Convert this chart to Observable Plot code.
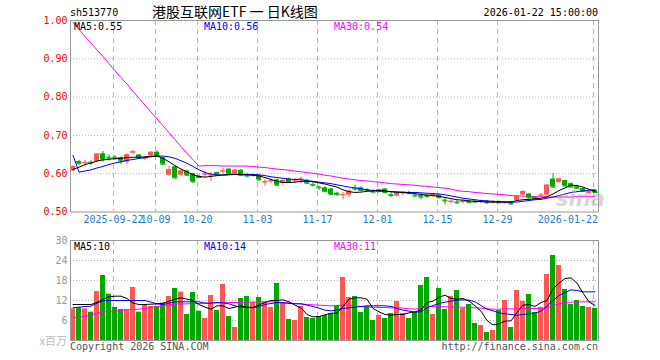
<!DOCTYPE html>
<html><head><meta charset="utf-8">
<script src="https://cdn.jsdelivr.net/npm/d3@7"></script>
<script src="https://cdn.jsdelivr.net/npm/@observablehq/plot@0.6"></script>
<style>
body{margin:0;background:#fff;}
#wrap{position:relative;width:660px;height:360px;overflow:hidden;font-family:"DejaVu Sans Mono",monospace;}
.t{position:absolute;white-space:nowrap;font-size:10px;line-height:12px;}
#wrap svg{position:absolute;left:0;}
</style></head><body><div id="wrap"></div>
<script>
const code = "sh513770";
const title = "港股互联网ETF 一 日K线图";
const stamp = "2026-01-22 15:00:00";
const priceMaLabels = ["MA5:0.55", "MA10:0.56", "MA30:0.54"];
const volMaLabels = ["MA5:10", "MA10:14", "MA30:11"];
const volUnit = "x百万";
const copyright = "Copyright 2026 SINA.COM";
const site = "http://finance.sina.com.cn";

const dates = ["2025-09-11","2025-09-12","2025-09-15","2025-09-16","2025-09-17","2025-09-18","2025-09-19","2025-09-22","2025-09-23","2025-09-24","2025-09-25","2025-09-26","2025-09-29","2025-09-30","2025-10-09","2025-10-10","2025-10-13","2025-10-14","2025-10-15","2025-10-16","2025-10-17","2025-10-20","2025-10-21","2025-10-22","2025-10-23","2025-10-24","2025-10-27","2025-10-28","2025-10-29","2025-10-30","2025-10-31","2025-11-03","2025-11-04","2025-11-05","2025-11-06","2025-11-07","2025-11-10","2025-11-11","2025-11-12","2025-11-13","2025-11-14","2025-11-17","2025-11-18","2025-11-19","2025-11-20","2025-11-21","2025-11-24","2025-11-25","2025-11-26","2025-11-27","2025-11-28","2025-12-01","2025-12-02","2025-12-03","2025-12-04","2025-12-05","2025-12-08","2025-12-09","2025-12-10","2025-12-11","2025-12-12","2025-12-15","2025-12-16","2025-12-17","2025-12-18","2025-12-19","2025-12-22","2025-12-23","2025-12-24","2025-12-25","2025-12-26","2025-12-29","2025-12-30","2025-12-31","2026-01-05","2026-01-06","2026-01-07","2026-01-08","2026-01-09","2026-01-12","2026-01-13","2026-01-14","2026-01-15","2026-01-16","2026-01-19","2026-01-20","2026-01-21","2026-01-22"];

const open  = [.607,.632,.627,.630,.632,.652,.643,.643,.642,.630,.654,.649,.639,.647,.656,.642,.596,.618,.596,.607,.600,.593,.597,.595,.603,.605,.612,.600,.609,.597,.594,.595,.576,.579,.584,.575,.586,.581,.584,.583,.572,.565,.563,.560,.549,.543,.544,.562,.563,.558,.555,.551,.560,.545,.542,.548,.550,.544,.543,.544,.540,.544,.531,.526,.526,.525,.528,.528,.525,.528,.523,.527,.522,.526,.530,.544,.547,.538,.542,.544,.586,.577,.582,.574,.566,.561,.548,.556];
const high  = [.620,.635,.635,.634,.652,.658,.649,.647,.644,.651,.661,.650,.644,.657,.660,.643,.619,.620,.612,.609,.601,.596,.605,.603,.604,.614,.613,.611,.611,.600,.599,.596,.584,.586,.586,.586,.589,.588,.591,.585,.576,.568,.566,.562,.552,.551,.558,.570,.566,.561,.558,.560,.561,.551,.552,.553,.554,.549,.547,.547,.549,.546,.535,.532,.530,.532,.531,.530,.531,.530,.529,.529,.528,.527,.543,.556,.548,.540,.548,.571,.600,.589,.583,.576,.570,.563,.556,.558];
const low   = [.605,.621,.619,.622,.630,.630,.633,.636,.623,.623,.649,.639,.634,.646,.645,.621,.593,.586,.593,.593,.574,.587,.591,.579,.595,.600,.598,.598,.593,.589,.591,.580,.567,.575,.568,.570,.575,.574,.574,.573,.565,.556,.551,.544,.541,.532,.537,.554,.554,.551,.550,.549,.547,.537,.540,.542,.545,.537,.532,.536,.538,.535,.519,.521,.520,.521,.522,.523,.522,.520,.520,.521,.519,.518,.528,.542,.534,.533,.538,.543,.563,.575,.566,.563,.560,.552,.545,.548];
const close = [.619,.627,.629,.628,.651,.637,.641,.641,.633,.649,.657,.642,.641,.656,.647,.625,.611,.589,.607,.596,.579,.590,.599,.597,.597,.607,.600,.609,.595,.594,.596,.584,.579,.582,.570,.582,.577,.583,.586,.575,.570,.563,.553,.546,.545,.545,.554,.560,.556,.556,.552,.558,.551,.543,.551,.550,.548,.542,.539,.541,.547,.537,.529,.528,.524,.528,.525,.526,.528,.524,.526,.524,.526,.521,.542,.553,.537,.535,.544,.570,.565,.586,.568,.565,.562,.554,.553,.551];
const volume = [9.5,9.8,9.5,8.5,14.7,19.5,13.9,9.9,9.3,9.3,15.9,8.5,10.5,10.2,10.2,11.2,13.2,15.6,14.5,7.8,14.4,8.8,6.6,13.5,9.0,16.8,7.2,3.9,12.6,13.2,11.4,12.9,11.4,9.9,17.1,11.4,6.3,6.0,10.2,6.9,6.6,7.2,7.5,8.0,10.2,18.9,12.9,13.2,8.4,10.2,6.0,7.5,6.6,8.1,11.7,8.1,6.6,8.4,16.5,18.9,7.8,15.6,9.3,13.2,15.0,9.6,10.8,5.1,4.5,2.4,3.0,9.0,12.0,3.9,15.0,11.7,13.8,8.4,9.9,19.8,25.5,22.5,15.3,10.8,12.0,10.2,9.9,9.6];

const ma5  = [.611,.617,.624,.628,.633,.636,.638,.639,.640,.642,.643,.643,.644,.646,.646,.640,.631,.621,.612,.605,.597,.593,.591,.593,.595,.597,.598,.599,.598,.597,.596,.594,.590,.585,.580,.577,.577,.578,.580,.580,.579,.576,.573,.569,.565,.558,.553,.551,.552,.554,.555,.556,.555,.553,.552,.551,.550,.548,.546,.544,.543,.541,.538,.535,.532,.531,.529,.528,.527,.526,.526,.526,.526,.526,.530,.532,.533,.534,.536,.540,.547,.556,.563,.570,.569,.565,.559,.554];
const ma10 = [.648,.604,.607,.610,.615,.619,.624,.628,.631,.635,.637,.640,.642,.644,.646,.646,.644,.640,.634,.627,.619,.610,.603,.599,.597,.596,.597,.598,.598,.598,.598,.597,.595,.592,.590,.588,.586,.585,.584,.582,.580,.578,.576,.574,.571,.568,.565,.563,.561,.558,.556,.555,.554,.553,.552,.552,.551,.551,.550,.549,.548,.547,.545,.542,.539,.536,.534,.532,.530,.529,.528,.527,.526,.526,.526,.528,.530,.532,.533,.536,.539,.543,.547,.551,.553,.555,.557,.558];
const ma30 = [.995,.977,.958,.941,.923,.906,.887,.869,.851,.834,.815,.797,.779,.761,.743,.725,.707,.689,.671,.653,.636,.620,.621,.621,.621,.620,.620,.620,.620,.620,.619,.617,.616,.614,.612,.611,.609,.607,.605,.603,.601,.599,.596,.594,.591,.588,.586,.584,.582,.581,.579,.578,.576,.574,.573,.572,.571,.570,.568,.567,.565,.564,.562,.560,.556,.554,.553,.551,.550,.548,.547,.546,.545,.543,.542,.541,.541,.540,.540,.539,.539,.539,.539,.539,.540,.540,.540,.540];
const vma5  = [10.8,10.8,10.8,10.8,11.4,12.4,13.1,13.3,13.3,12.6,11.2,10.8,10.8,10.9,11.0,11.2,11.8,12.4,12.8,12.4,12.0,10.8,10.0,9.4,10.4,10.4,9.6,10.0,10.4,10.0,9.9,10.7,11.4,12.0,12.0,12.2,11.6,10.6,9.8,7.8,7.1,7.2,7.7,8.2,8.2,10.2,12.4,12.8,12.8,12.4,9.6,8.6,7.8,7.6,7.8,7.8,8.3,8.6,9.2,11.4,11.8,13.0,13.6,12.6,12.4,12.6,11.8,10.4,8.8,6.0,4.7,5.0,5.8,5.9,8.4,10.6,10.8,10.2,11.4,12.0,15.5,17.2,18.6,18.8,17.2,14.2,11.6,10.5];
const vma10 = [9.8,10.0,10.2,10.3,11.2,11.9,12.0,12.0,12.0,12.0,12.0,12.0,12.0,11.5,11.0,10.8,11.2,11.6,11.6,11.6,11.6,11.6,11.2,11.2,11.4,11.3,11.0,10.4,10.0,9.9,9.8,10.2,10.8,11.1,11.4,11.3,11.1,11.0,11.0,10.6,10.2,9.7,9.1,8.9,9.2,9.6,9.8,10.0,10.2,10.4,10.4,10.4,10.4,10.2,9.6,9.1,8.8,8.5,8.6,9.8,10.5,11.1,11.5,11.8,12.1,12.2,12.1,11.6,10.5,9.4,8.9,8.3,8.0,7.8,7.6,7.8,8.0,8.2,8.8,10.3,12.0,13.5,14.4,15.2,15.0,14.6,14.6,14.6];
const vma30 = [6.8,7.0,7.2,7.6,8.2,8.5,8.7,8.8,9.0,9.2,9.3,9.4,9.6,9.9,10.1,10.4,10.7,10.9,11.0,11.0,11.1,11.1,11.2,11.2,11.3,11.3,11.4,11.4,11.4,11.5,11.5,11.6,11.6,11.6,11.5,11.4,11.3,11.1,11.0,10.8,10.7,10.6,10.5,10.4,10.5,10.6,10.6,10.4,10.2,10.0,10.0,9.9,9.9,9.8,9.8,9.7,9.5,9.4,9.8,10.2,10.2,10.2,10.1,10.1,10.0,10.0,9.9,9.8,9.7,9.5,9.4,9.4,9.5,9.5,9.5,9.6,9.6,9.6,9.7,9.8,10.4,11.0,11.4,11.5,11.5,11.6,11.6,11.6];

const tickDates  = ["2025-09-22","2025-10-09","2025-10-20","2025-11-03","2025-11-17","2025-12-01","2025-12-15","2025-12-29","2026-01-22"];
const tickLabels = ["2025-09-22","10-09","10-20","11-03","11-17","12-01","12-15","12-29","2026-01-22"];
const priceTicks = [0.5, 0.6, 0.7, 0.8, 0.9, 1.0];
const volTicks = [6, 12, 18, 24, 30];

const UP = "#ff5555", DN = "#00a800";
const rows = dates.map((d, i) => ({i, date: d, o: open[i], h: high[i], l: low[i], c: close[i], v: volume[i],
  m5: ma5[i], m10: ma10[i], m30: ma30[i], vm5: vma5[i], vm10: vma10[i], vm30: vma30[i], up: close[i] >= open[i]}));
const col = d => d.up ? UP : DN;
const tickRows = tickDates.map((d, k) => ({i: dates.indexOf(d), label: tickLabels[k]}));
const n = dates.length;
const xDomain = [-0.42, n - 0.42];
const hw = 0.42;
const GRID = "#b4b4b4";
const font = {fontFamily: "DejaVu Sans Mono, monospace", fontSize: "10px", background: "transparent", overflow: "visible"};

const price = Plot.plot({
  width: 660, height: 232, marginLeft: 70, marginRight: 62, marginTop: 20, marginBottom: 20.5,
  x: {domain: xDomain, axis: null},
  y: {domain: [0.5, 1.0], axis: null},
  style: font,
  marks: [
    Plot.ruleY(priceTicks.slice(1, -1), {stroke: GRID, strokeDasharray: "1,2"}),
    Plot.ruleX(tickRows, {x: "i", stroke: GRID, strokeDasharray: "5,4", dx: -1.5}),
    Plot.line(rows, {x: "i", y: "m30", stroke: "#ff00ff", strokeWidth: 1}),
    Plot.ruleX(rows, {x: "i", y1: "l", y2: "h", stroke: col, strokeWidth: 1}),
    Plot.rect(rows, {x1: d => d.i - hw, x2: d => d.i + hw, y1: d => Math.min(d.o, d.c), y2: d => Math.max(d.o, d.c), fill: col}),
    Plot.link(rows, {x1: d => d.i - hw, x2: d => d.i + hw, y1: "c", y2: "c", stroke: col, strokeWidth: 1}),
    Plot.line(rows, {x: "i", y: "m10", stroke: "#0000ff", strokeWidth: 1}),
    Plot.line(rows, {x: "i", y: "m5", stroke: "#000000", strokeWidth: 1}),
    Plot.frame({stroke: "#999"}),
    Plot.axisY({ticks: priceTicks, tickSize: 0, tickPadding: 3, tickFormat: d => d.toFixed(2), fill: "#ff0000", label: null}),
    Plot.text(tickRows.slice(0, -1), {x: "i", text: "label", frameAnchor: "bottom", dy: 11, dx: -1.5, fill: "#1a7fd4"}),
    Plot.text(tickRows.slice(-1), {x: "i", text: "label", frameAnchor: "bottom", dy: 11, dx: 3, textAnchor: "end", fill: "#1a7fd4"})
  ]
});

const vol = Plot.plot({
  width: 660, height: 118, marginLeft: 70, marginRight: 62, marginTop: 8, marginBottom: 10,
  x: {domain: xDomain, axis: null},
  y: {domain: [0, 30], axis: null},
  style: font,
  marks: [
    Plot.ruleY(volTicks.slice(0, -1), {stroke: GRID, strokeDasharray: "1,2"}),
    Plot.ruleX(tickRows, {x: "i", stroke: GRID, strokeDasharray: "5,4", dx: -1.5}),
    Plot.rectY(rows, {x1: d => d.i - hw, x2: d => d.i + hw, y: "v", fill: col}),
    Plot.line(rows, {x: "i", y: "vm30", stroke: "#ff00ff", strokeWidth: 1}),
    Plot.line(rows, {x: "i", y: "vm10", stroke: "#0000ff", strokeWidth: 1}),
    Plot.line(rows, {x: "i", y: "vm5", stroke: "#000000", strokeWidth: 1}),
    Plot.frame({stroke: "#999"}),
    Plot.axisY({ticks: volTicks, tickSize: 0, tickPadding: 3, fill: "#999", label: null})
  ]
});

const wrap = document.getElementById("wrap");
price.style.top = "0px";
vol.style.top = "232px";
wrap.appendChild(price);
wrap.appendChild(vol);

function addText(txt, css, cls = "t") {
  const d = document.createElement("div");
  d.className = cls;
  d.textContent = txt;
  Object.assign(d.style, css);
  wrap.appendChild(d);
  return d;
}
addText(code, {left: "70px", top: "7px", color: "#000"});
addText(title, {left: "152px", top: "3px", fontSize: "14px", lineHeight: "16px", fontFamily: "'Noto Sans CJK SC', sans-serif", color: "#000"});
addText(stamp, {right: "62px", top: "7px", color: "#000"});
const maColors = ["#000", "#0000ff", "#ff00ff"];
const maLefts = [74, 204, 334];
priceMaLabels.forEach((t, k) => addText(t, {left: maLefts[k] + "px", top: "20.5px", color: maColors[k]}));
volMaLabels.forEach((t, k) => addText(t, {left: maLefts[k] + "px", top: "240.5px", color: maColors[k]}));
addText(volUnit, {right: "593px", top: "334px", color: "#bbb", fontSize: "11px", fontFamily: "'Noto Sans CJK SC', sans-serif"});
addText(copyright, {left: "70px", top: "340.5px", color: "#555"});
addText(site, {right: "62px", top: "340.5px", color: "#555"});
addText("sina", {left: "556px", top: "188px", fontSize: "21px", lineHeight: "22px", fontWeight: "bold", fontStyle: "italic", fontFamily: "'DejaVu Sans', sans-serif", color: "rgba(175,160,165,0.45)"});
</script></body></html>
